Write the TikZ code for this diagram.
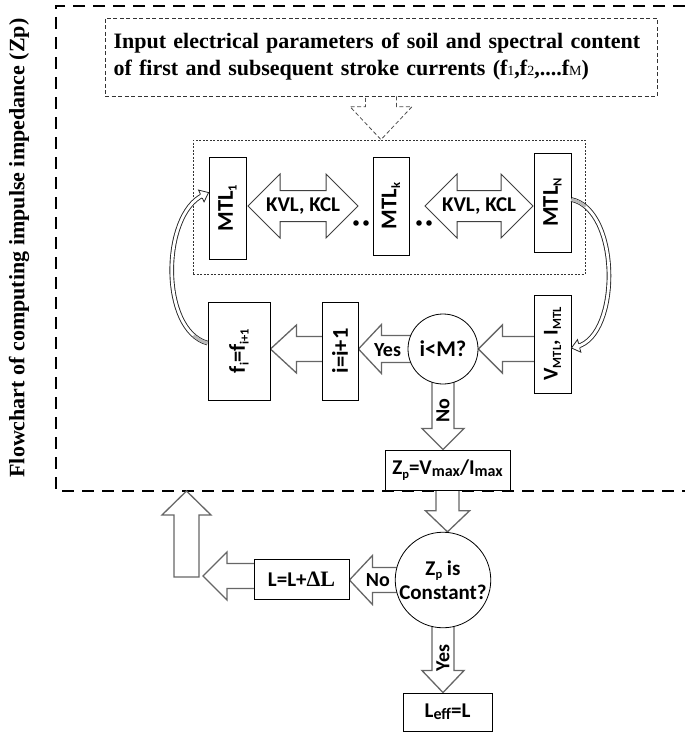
\documentclass[tikz,border=0pt]{standalone}
\usepackage{fontspec}
\setmainfont{Liberation Serif}
\setsansfont{Carlito}
\usetikzlibrary{calc,backgrounds}

\newcommand{\sbs}[1]{\raisebox{-0.35ex}{\fontsize{12.5}{12.5}\selectfont #1}}
\newcommand{\sbm}[1]{\raisebox{-0.15ex}{\fontsize{16}{16}\selectfont #1}}
\newcommand{\fsub}[1]{{\mdseries\fontsize{14}{14}\selectfont #1}}
% single block arrow: [opt]{tail}{tip}{head length}{head half width}{shaft half width}
\newcommand{\blockarrow}[6][]{%
  \path (#2) coordinate (batail) (#3) coordinate (batip);
  \path ($(batip)!#4!(batail)$) coordinate (babase);
  \draw[blockarrowstyle,#1] ($(batail)!#6!90:(batip)$) -- ($(babase)!#6!90:(batip)$)
    -- ($(babase)!#5!90:(batip)$) -- (batip) -- ($(babase)!#5!-90:(batip)$)
    -- ($(babase)!#6!-90:(batip)$) -- ($(batail)!#6!-90:(batip)$) -- cycle;}
% double block arrow: {tipA}{tipB}{head length}{head half width}{shaft half width}
\newcommand{\dblarrow}[5]{%
  \path (#1) coordinate (daA) (#2) coordinate (daB);
  \path ($(daA)!#3!(daB)$) coordinate (daAb) ($(daB)!#3!(daA)$) coordinate (daBb);
  \draw[kvlstyle] (daA) -- ($(daAb)!#4!90:(daB)$) -- ($(daAb)!#5!90:(daB)$)
    -- ($(daBb)!#5!90:(daB)$) -- ($(daBb)!#4!90:(daB)$) -- (daB)
    -- ($(daBb)!#4!-90:(daB)$) -- ($(daBb)!#5!-90:(daB)$)
    -- ($(daAb)!#5!-90:(daB)$) -- ($(daAb)!#4!-90:(daB)$) -- cycle;}
% small hollow head for the curved arrows: {tip}{point it comes from}
\newcommand{\curvehead}[2]{%
  \path (#1) coordinate (chT) ($(#1)!8pt!(#2)$) coordinate (chB);
  \filldraw[draw=black!85, fill=white, line width=0.8pt]
    ($(chB)!2.3pt!90:(chT)$) -- ($(chB)!6.5pt!90:(chT)$) -- (chT)
    -- ($(chB)!6.5pt!-90:(chT)$) -- ($(chB)!2.3pt!-90:(chT)$);}

\begin{document}
\begin{tikzpicture}[x=1pt,y=-1pt,
  every node/.style={font=\sffamily\bfseries\fontsize{21}{24}\selectfont, inner sep=0pt},
  box/.style={draw=black, line width=0.9pt, fill=white},
  circ/.style={draw=black, line width=0.8pt, fill=white, circle, align=center},
  inbox/.style={draw=black!80, line width=0.8pt, dash pattern=on 4pt off 2.5pt, fill=white},
  mtlframe/.style={draw=black!80, line width=0.7pt, dash pattern=on 2pt off 1.5pt},
  outer/.style={draw=black, line width=2.5pt, dash pattern=on 12pt off 8pt},
  blockarrowstyle/.style={draw=black!60, fill=white, line width=1.3pt, line join=miter},
  kvlstyle/.style={draw=black!75, fill=white, line width=1pt, line join=miter},
  dashedarrow/.style={draw=black!70, line width=0.8pt, dash pattern=on 4pt off 2.5pt},
  lbl/.style={font=\sffamily\bfseries\fontsize{20}{22}\selectfont},
  bigsans/.style={font=\sffamily\bfseries\fontsize{22.5}{26}\selectfont},
  curvearrow/.style={line width=2.8pt, draw=gray!55, dash pattern=on 16pt off 3000pt,
    line cap=butt, shorten >=6pt,
    preaction={draw=black!85, line width=4.6pt, solid},
    preaction={draw=white, line width=2.8pt, solid}}
]
\useasboundingbox (0,0) rectangle (685,736);

% title
\node[font=\rmfamily\bfseries\fontsize{22}{26}\selectfont, rotate=90] (title) at (19,248)
  {Flowchart of computing impulse impedance (Zp)};

% input box
\node[inbox, minimum width=552pt, minimum height=78pt, text width=535pt, align=left,
  font=\rmfamily\bfseries\fontsize{22}{27}\selectfont] (input) at (381,57)
  {Input electrical parameters of soil and spectral content\\of first and subsequent stroke currents (f\fsub{1},f\fsub{2},....f\fsub{M})};

% MTL frame and boxes
\node[mtlframe, minimum width=392pt, minimum height=134pt] (mtlbox) at (389,207) {};
\node[box, minimum width=37pt, minimum height=102pt] (mtl1) at (227.5,208) {};
\node[rotate=90, bigsans] (mtl1t) at (mtl1) {MTL\sbs{1}};
\node[box, minimum width=36pt, minimum height=98pt] (mtlk) at (391,206) {};
\node[rotate=90, bigsans] (mtlkt) at (mtlk) {MTL\sbs{k}};
\node[box, minimum width=37pt, minimum height=99pt] (mtlN) at (552.5,202.5) {};
\node[rotate=90, bigsans] (mtlNt) at (mtlN) {MTL\sbs{N}};

% second row
\node[box, minimum width=62pt, minimum height=98pt] (fbox) at (239,351) {};
\node[rotate=90, bigsans] (fboxt) at (fbox) {f\sbs{i}=f\sbs{i+1}};
\node[box, minimum width=36pt, minimum height=98pt] (ibox) at (340,351) {};
\node[rotate=90, bigsans] (iboxt) at (ibox) {i=i+1};
\node[circ, minimum size=70pt, bigsans] (c1) at (443,349) {i<M?};
\node[box, minimum width=37pt, minimum height=98pt] (vbox) at (552.5,344) {};
\node[rotate=90] (vboxt) at (vbox) {V\sbs{MTL}, I\sbs{MTL}};

% lower part
\node[box, minimum width=125pt, minimum height=40pt] (zp) at (447.5,470) {Z\sbs{p}=V\sbm{max}/I\sbm{max}};
\node[circ, minimum size=92pt] (c2) at (443,580) {Z\sbs{p} is\\Constant?};
\node[box, minimum width=95pt, minimum height=40pt] (lbox) at (301.5,579) {L=L+{\rmfamily\fontsize{22}{24}\selectfont ΔL}};
\node[box, minimum width=89pt, minimum height=38pt] (leff) at (447.5,712) {L\sbm{eff}=L};

% free-end coordinates
\coordinate (upleft) at (203,576);
\coordinate (upbot) at (186.5,577);
\coordinate (uptop) at (186.5,491);
\coordinate (k1a) at (248,206);
\coordinate (k1b) at (358,206);
\coordinate (k2a) at (425,206);
\coordinate (k2b) at (533,206);

\begin{pgfonlayer}{background}
  \draw[outer] (685,6) -- (56,6) -- (56,491) -- (685,491);
  \blockarrow{vbox.center |- c1.center}{c1.east}{24pt}{24pt}{12.5pt}
  \blockarrow{c1.center}{ibox.east |- c1.center}{23pt}{24.5pt}{13.5pt}
  \blockarrow{ibox.center |- c1.center}{fbox.east |- c1.center}{26pt}{24pt}{12.5pt}
  \blockarrow{c1.center}{c1.center |- zp.north}{21pt}{21pt}{11pt}
  \blockarrow{zp.center}{zp.center |- c2.north}{21pt}{22pt}{11.5pt}
  \blockarrow{c2.center}{lbox.east |- c2.center}{23pt}{24.5pt}{12.5pt}
  \blockarrow{lbox.center |- upleft}{upleft}{24pt}{24pt}{12.5pt}
  \blockarrow{upbot}{uptop}{24pt}{24.5pt}{12.5pt}
  \blockarrow{c2.center}{c2.center |- leff.north}{22pt}{21pt}{11pt}
\end{pgfonlayer}

% dashed hollow arrow from input box
\path (input.south) coordinate (dtail) (input.south |- mtlbox.north) coordinate (dtip);
\path ($(dtip)!33pt!(dtail)$) coordinate (dbase);
\draw[dashedarrow] ($(dtail)!15.5pt!90:(dtip)$) -- ($(dbase)!15.5pt!90:(dtip)$)
  -- ($(dbase)!31pt!90:(dtip)$) -- (dtip) -- ($(dbase)!31pt!-90:(dtip)$)
  -- ($(dbase)!15.5pt!-90:(dtip)$) -- ($(dtail)!15.5pt!-90:(dtip)$);

% KVL, KCL double arrows
\dblarrow{k1a}{k1b}{32pt}{32pt}{15.5pt}
\node (kvl1) at ($(k1a)!0.5!(k1b)$) {KVL, KCL};
\dblarrow{k2a}{k2b}{32pt}{32pt}{15.5pt}
\node (kvl2) at ($(k2a)!0.5!(k2b)$) {KVL, KCL};

% dots
\fill (356,223) circle (2.8);
\fill (366,223) circle (2.8);
\fill (419,223) circle (2.8);
\fill (429,223) circle (2.8);

% arrow labels
\node[lbl] (yes1) at ($(c1.west)+(-20,1)$) {Yes};
\node[lbl, rotate=90] (no1) at ($(c1.south)+(0,26)$) {No};
\node[lbl] (no2) at ($(c2.west)+(-17,0)$) {No};
\node[lbl, rotate=90] (yes2) at ($(c2.south)+(0,30)$) {Yes};

% curved feedback arrows
\coordinate (lcs) at ($(fbox.north west)!0.42!(fbox.south west)$);
\coordinate (lce) at ($(mtl1.north west)!0.35!(mtl1.south west)$);
\coordinate (lc1) at ($(lcs)+(-48,-13)$);
\coordinate (lc2) at ($(lce)+(-47,22)$);
\draw[curvearrow] (lcs) .. controls (lc1) and (lc2) .. (lce);
\curvehead{lce}{lc2}
\coordinate (rcs) at ($(mtlN.north east)!0.47!(mtlN.south east)$);
\coordinate (rce) at ($(vbox.north east)!0.54!(vbox.south east)$);
\coordinate (rc1) at ($(rcs)+(49,10.5)$);
\coordinate (rc2) at ($(rce)+(49,-13)$);
\draw[curvearrow] (rcs) .. controls (rc1) and (rc2) .. (rce);
\curvehead{rce}{rc2}
\end{tikzpicture}
\end{document}
